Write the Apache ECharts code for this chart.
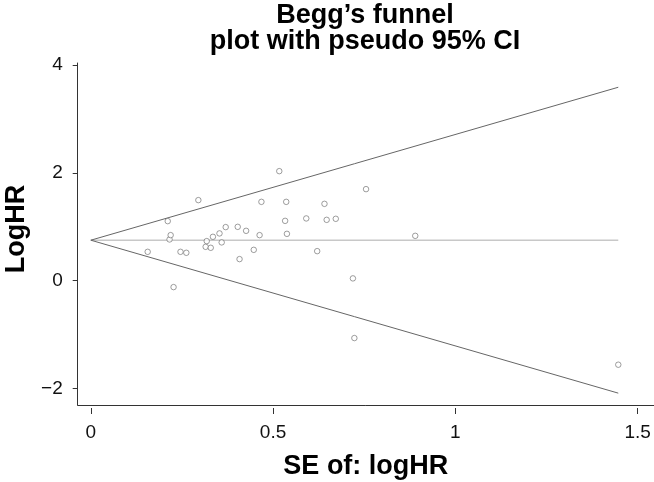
<!DOCTYPE html>
<html>
<head>
<meta charset="utf-8">
<script src="https://cdn.jsdelivr.net/npm/echarts@6/dist/echarts.min.js"></script>
<style>
  html, body {margin:0;padding:0;background:#fff;}
  #chart {width:654px;height:482px;}
</style>
</head>
<body>
<div id="chart"></div>
<script>
// study points: standard error of logHR and logHR
var seValues = [0.156, 0.211, 0.216, 0.219, 0.227, 0.246, 0.262, 0.295, 0.315, 0.318,
                0.329, 0.335, 0.353, 0.359, 0.370, 0.403, 0.408, 0.426, 0.447, 0.463,
                0.468, 0.517, 0.533, 0.536, 0.538, 0.591, 0.621, 0.641, 0.647, 0.672,
                0.719, 0.723, 0.755, 0.890, 1.447];
var logHR = [0.534, 1.104, 0.764, 0.844, -0.121, 0.534, 0.516, 1.494, 0.627, 0.733,
             0.609, 0.813, 0.876, 0.709, 0.993, 0.998, 0.399, 0.924, 0.571, 0.844,
             1.462, 2.032, 1.109, 1.462, 0.868, 1.154, 0.547, 1.425, 1.128, 1.147,
             0.041, -1.067, 1.698, 0.831, -1.562];

// pseudo 95% CI funnel (end points)
var funnelSe = [0, 1.447];
var funnelMid = [0.75, 0.75];
var funnelUpper = [0.75, 3.59];
var funnelLower = [0.75, -2.09];

var xTicks = [0, 0.5, 1, 1.5];
var yTicks = [-2, 0, 2, 4];

var chart = echarts.init(document.getElementById('chart'));
var font = 'Liberation Sans, Arial, sans-serif';

function pairs(xs, ys) {
  return xs.map(function (x, i) { return [x, ys[i]]; });
}

var option = {
  animation: false,
  backgroundColor: '#fff',
  title: {
    text: 'Begg\u2019s funnel\nplot with pseudo 95% CI',
    left: 360,
    top: -2,
    textAlign: 'center',
    textStyle: {fontFamily: font, fontSize: 27, fontWeight: 'bold', color: '#000', lineHeight: 26}
  },
  grid: {left: 77.7, right: 0, top: 63, bottom: 77, containLabel: false, outerBoundsMode: 'none'},
  xAxis: [{
    type: 'value', min: -0.036, max: 1.545,
    axisLine: {show: true, onZero: false, lineStyle: {color: '#333', width: 1}},
    axisTick: {show: false}, axisLabel: {show: false}, splitLine: {show: false},
    name: 'SE of: logHR', nameLocation: 'middle', nameGap: 48,
    nameTextStyle: {fontFamily: font, fontSize: 27, fontWeight: 'bold', color: '#000'}
  }, {
    type: 'value', min: -0.036, max: 1.545, position: 'bottom', offset: 3,
    axisLine: {show: false, onZero: false},
    axisTick: {show: true, length: 6, customValues: xTicks, lineStyle: {color: '#333'}},
    axisLabel: {show: true, customValues: xTicks, margin: 15, fontFamily: font, fontSize: 19, color: '#111'},
    splitLine: {show: false}
  }],
  yAxis: {
    type: 'value', min: -2.31, max: 4.04,
    axisLine: {show: true, onZero: false, lineStyle: {color: '#333', width: 1}},
    axisTick: {show: true, length: 5, customValues: yTicks, lineStyle: {color: '#333'}},
    axisLabel: {
      customValues: yTicks, margin: 15, fontFamily: font, fontSize: 19, color: '#111',
      formatter: function (v) { return String(v).replace('-', '\u2212'); }
    },
    splitLine: {show: false},
    name: 'LogHR', nameLocation: 'middle', nameGap: 47,
    nameTextStyle: {fontFamily: font, fontSize: 27, fontWeight: 'bold', color: '#000', padding: [0, 0, 0, 10]}
  },
  series: [{
    type: 'line', data: pairs(funnelSe, funnelMid), symbol: 'none',
    lineStyle: {color: '#c8c8c8', width: 1.6}, z: 1
  }, {
    type: 'line', data: pairs(funnelSe, funnelUpper), symbol: 'none',
    lineStyle: {color: '#666', width: 1}, z: 2
  }, {
    type: 'line', data: pairs(funnelSe, funnelLower), symbol: 'none',
    lineStyle: {color: '#666', width: 1}, z: 2
  }, {
    type: 'scatter', data: pairs(seValues, logHR), symbol: 'circle', symbolSize: 5.5,
    itemStyle: {color: '#fff', borderColor: '#666', borderWidth: 0.8}, z: 3
  }]
};
chart.setOption(option);
window.onresize = function () { chart.resize(); };
</script>
</body>
</html>
